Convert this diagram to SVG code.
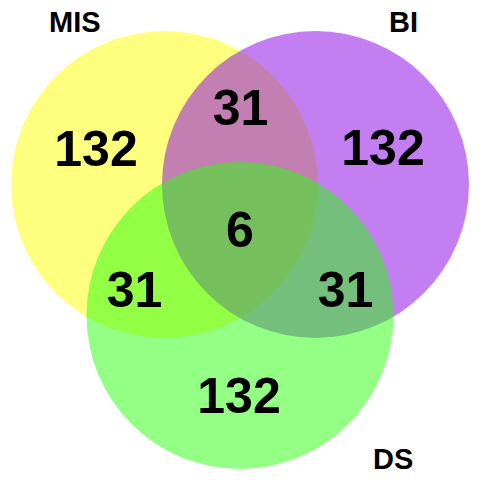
<svg xmlns="http://www.w3.org/2000/svg" width="480" height="480" viewBox="0 0 480 480">
<style>
.set{opacity:0.5}
.num{font-family:"Liberation Sans",Arial,sans-serif;font-weight:bold;font-size:50px;fill:#000;text-anchor:middle}
.lab{font-family:"Liberation Sans",Arial,sans-serif;font-weight:bold;font-size:29px;fill:#000}
</style>
<rect width="480" height="480" fill="#fff"/>
<g id="MIS"><circle class="set" cx="164.5" cy="184.5" r="153.5" fill="#ffff00"/></g>
<g id="BI"><circle class="set" cx="315.5" cy="184.5" r="153.5" fill="#8800e4"/></g>
<g id="DS"><circle class="set" cx="240" cy="315.5" r="153.5" fill="#28ff0a"/></g>
<g id="labels">
<text class="lab" x="49" y="32">MIS</text>
<text class="lab" x="389" y="32">BI</text>
<text class="lab" x="373" y="469">DS</text>
</g>
<g id="counts">
<text class="num" x="96" y="166">132</text>
<text class="num" x="383" y="165">132</text>
<text class="num" x="239" y="413">132</text>
<text class="num" x="240.5" y="125">31</text>
<text class="num" x="134.5" y="307">31</text>
<text class="num" x="345.5" y="307">31</text>
<text class="num" x="240" y="247">6</text>
</g>
</svg>
